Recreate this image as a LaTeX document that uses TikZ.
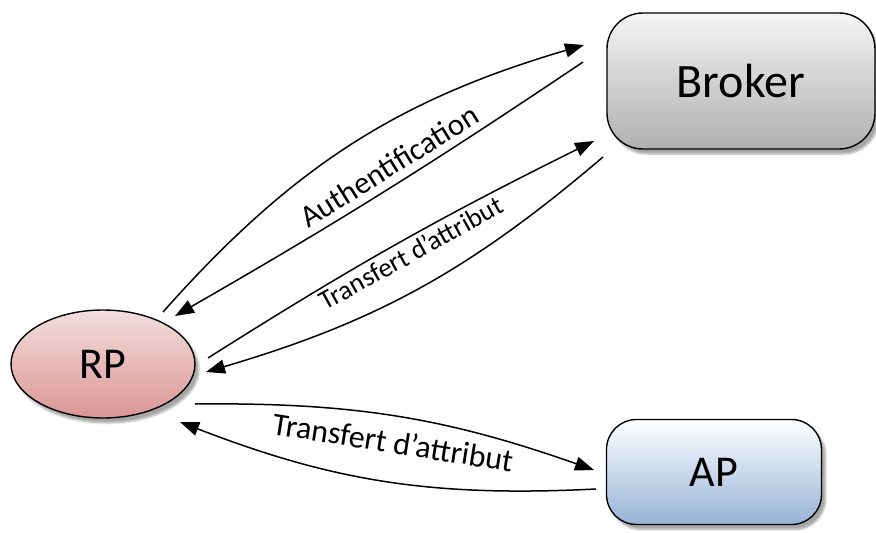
\documentclass[tikz,border=0pt]{standalone}
\usepackage{fontspec}
\setmainfont{Carlito}
\usetikzlibrary{arrows.meta,shadows.blur,shapes.geometric}

\tikzset{
  entity/.style={draw=black, line width=1.4pt, shading=axis, shading angle=0,
    blur shadow={shadow xshift=4pt, shadow yshift=-5pt, shadow blur steps=6, shadow opacity=35},
    font=\fontsize{44}{50}\selectfont, inner sep=0pt},
  flow/.style={draw=black, line width=1.5pt, -{Triangle[length=19pt,width=14pt]}},
  lbl/.style={font=\fontsize{#1}{#1}\selectfont, inner sep=0pt},
}

\begin{document}
\begin{tikzpicture}[x=1pt, y=-1pt]
\useasboundingbox (0,0) rectangle (876,533);

% actors
\node[entity, rectangle, rounded corners=36pt, minimum width=268pt, minimum height=136pt,
      top color=gray!8, bottom color=gray!62, font=\fontsize{48}{54}\selectfont] (broker) at (741,81) {Broker};
\node[entity, ellipse, minimum width=184pt, minimum height=108pt,
      top color={rgb,255:red,243;green,222;blue,222}, bottom color={rgb,255:red,217;green,150;blue,148}] (rp) at (103,364) {RP};
\node[entity, rectangle, rounded corners=30pt, minimum width=215pt, minimum height=105pt,
      top color=white, bottom color={rgb,255:red,149;green,179;blue,215}] (ap) at (714,472) {AP};

% connector end points near the actors
\coordinate (rpA) at (163,312);
\coordinate (brA) at (584,45);
\coordinate (brB) at (583,62);
\coordinate (rpB) at (175,316);
\coordinate (rpC) at (208,358);
\coordinate (brC) at (594,141);
\coordinate (brD) at (603,157);
\coordinate (rpD) at (206,372);
\coordinate (rpE) at (195,404);
\coordinate (apE) at (594,470);
\coordinate (apF) at (596,489);
\coordinate (rpF) at (180,422);

% exchanges between the actors
\draw[flow] (rpA) to[bend left=16] (brA);
\draw[flow] (brB) to[bend left=2] (rpB);
\draw[flow] (rpC) to[bend left=3] (brC);
\draw[flow] (brD) to[bend left=12] (rpD);
\draw[flow] (rpE) to[bend left=10] (apE);
\draw[flow] (apF) to[bend left=12] (rpF);

% labels
\node[lbl=31, rotate=32] (lauth) at (389,166) {Authentification};
\node[lbl=27, rotate=29] (lmid) at (411,253) {Transfert d’attribut};
\node[lbl=32, rotate=-9] (lbot) at (393,442) {Transfert d’attribut};
\end{tikzpicture}
\end{document}
